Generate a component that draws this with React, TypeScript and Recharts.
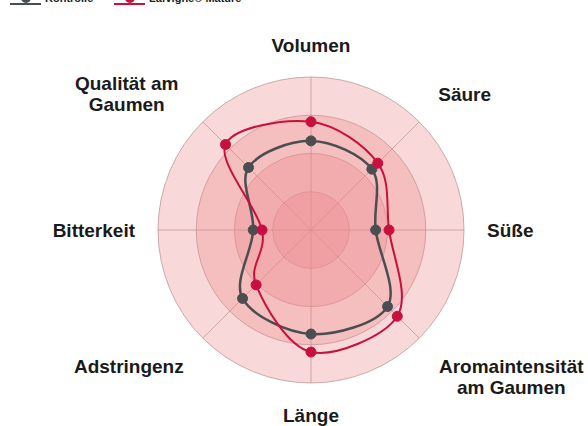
import { RadarChart, Radar, PolarGrid, PolarAngleAxis, PolarRadiusAxis, Legend } from 'recharts';

const attributes = [
  'Volumen',
  'Säure',
  'Süße',
  'Aromaintensität\nam Gaumen',
  'Länge',
  'Adstringenz',
  'Bitterkeit',
  'Qualität am\nGaumen',
];
const kontrolle = [2.33, 2.25, 1.69, 2.83, 2.72, 2.53, 1.51, 2.31];
const lafvigne = [2.83, 2.47, 2.04, 3.19, 3.19, 2.03, 1.28, 3.16];
const rings = [4, 3, 2, 1];
const seriesNames = ['Kontrolle', 'Lafvigne® Mature'];

const CX = 311;
const CY = 230;
const GRAY = '#4b4e50';
const RED = '#c8103f';

const data = attributes.map((a, i) => ({
  attr: a,
  kontrolle: kontrolle[i],
  lafvigne: lafvigne[i],
  r4: rings[0],
  r3: rings[1],
  r2: rings[2],
  r1: rings[3],
}));

// closed catmull-rom curve through the radar points
function SmoothShape(props: any) {
  const pts = props.points || [];
  const n = pts.length;
  if (!n) return null;
  let d = `M${pts[0].x},${pts[0].y}`;
  for (let i = 0; i < n; i++) {
    const p0 = pts[(i - 1 + n) % n];
    const p1 = pts[i];
    const p2 = pts[(i + 1) % n];
    const p3 = pts[(i + 2) % n];
    const c1x = p1.x + (p2.x - p0.x) / 6;
    const c1y = p1.y + (p2.y - p0.y) / 6;
    const c2x = p2.x - (p3.x - p1.x) / 6;
    const c2y = p2.y - (p3.y - p1.y) / 6;
    d += ` C${c1x},${c1y} ${c2x},${c2y} ${p2.x},${p2.y}`;
  }
  return <path d={d + 'Z'} fill="none" stroke={props.stroke} strokeWidth={props.strokeWidth} />;
}

function RingShape(props: any) {
  const p = (props.points || [])[0];
  if (!p) return null;
  const r = Math.hypot(p.x - CX, p.y - CY);
  return <circle cx={CX} cy={CY} r={r} fill="#ec8a8c" fillOpacity={0.33} stroke="none" />;
}

function AxisTick(props: any) {
  const { x, y, payload } = props;
  const dx = x - CX;
  const dy = y - CY;
  const len = Math.hypot(dx, dy) || 1;
  const ux = dx / len;
  const uy = dy / len;
  const diag = Math.abs(ux) > 0.1 && Math.abs(uy) > 0.1;
  const px = CX + ux * (diag ? 180 : 176);
  const py = CY + uy * (diag ? 193 : 185);
  const anchor = ux > 0.1 ? 'start' : ux < -0.1 ? 'end' : 'middle';
  const lines = String(payload.value).split('\n');
  const lh = 21;
  const multi = lines.length > 1;
  // labels below the centre hang down from their point, others are centred on it
  const first = multi && uy > 0 ? py + 7 : py - ((lines.length - 1) * lh) / 2 + 7;
  const lx = multi ? px + (ux > 0 ? 73 : -57) : px;
  return (
    <text
      x={lx}
      y={first}
      textAnchor={multi ? 'middle' : anchor}
      fontSize={19}
      fontWeight="bold"
      fontFamily="Liberation Sans, Arial, sans-serif"
      fill="#1a1a1a"
    >
      {lines.map((l, i) => (
        <tspan key={i} x={lx} dy={i === 0 ? 0 : lh}>
          {l}
        </tspan>
      ))}
    </text>
  );
}

function LegendContent() {
  const colors = [GRAY, RED];
  const starts = [10, 114];
  return (
    <svg width={300} height={8} style={{ display: 'block' }}>
      {seriesNames.map((name, i) => (
        <g key={name}>
          <line x1={starts[i]} x2={starts[i] + 31} y1={4} y2={4} stroke={colors[i]} strokeWidth={2} />
          <circle cx={starts[i] + 16} cy={-2} r={5} fill={colors[i]} />
          <text
            x={starts[i] + 35}
            y={2}
            fontSize={11}
            fontWeight="bold"
            fontFamily="Liberation Sans, Arial, sans-serif"
            fill="#222"
          >
            {name}
          </text>
        </g>
      ))}
    </svg>
  );
}

export default function App() {
  return (
    <div style={{ position: 'absolute', left: 0, top: 0, width: 588, height: 426, background: '#fff' }}>
      <RadarChart width={588} height={426} data={data} cx={CX} cy={CY} outerRadius={153} margin={{ top: 0, right: 0, bottom: 0, left: 0 }}>
        <PolarRadiusAxis domain={[0, 4]} tickCount={5} tick={false} axisLine={false} />
        <Radar dataKey="r4" shape={RingShape} dot={false} legendType="none" isAnimationActive={false} />
        <Radar dataKey="r3" shape={RingShape} dot={false} legendType="none" isAnimationActive={false} />
        <Radar dataKey="r2" shape={RingShape} dot={false} legendType="none" isAnimationActive={false} />
        <Radar dataKey="r1" shape={RingShape} dot={false} legendType="none" isAnimationActive={false} />
        <PolarGrid gridType="circle" stroke="#a8908f" strokeOpacity={0.7} />
        <PolarAngleAxis dataKey="attr" tick={AxisTick} tickLine={false} axisLine={false} />
        <Radar
          name={seriesNames[0]}
          dataKey="kontrolle"
          stroke={GRAY}
          strokeWidth={2.5}
          fill="none"
          shape={SmoothShape}
          dot={{ r: 5, fill: GRAY, stroke: GRAY, strokeWidth: 1 }}
          isAnimationActive={false}
        />
        <Radar
          name={seriesNames[1]}
          dataKey="lafvigne"
          stroke={RED}
          strokeWidth={2}
          fill="none"
          shape={SmoothShape}
          dot={{ r: 5, fill: RED, stroke: RED, strokeWidth: 1 }}
          isAnimationActive={false}
        />
        <Legend content={LegendContent} wrapperStyle={{ position: 'absolute', top: 0, left: 0 }} />
      </RadarChart>
    </div>
  );
}
